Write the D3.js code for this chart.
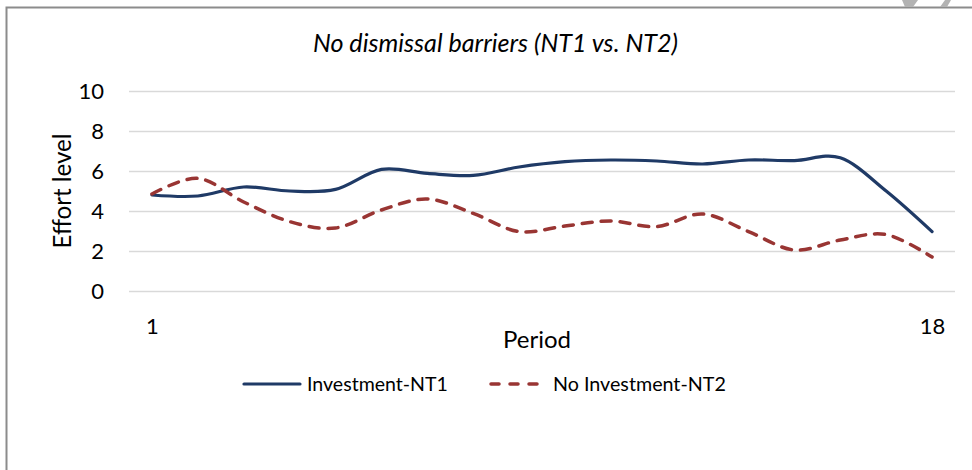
<!DOCTYPE html>
<html>
<head>
<meta charset="utf-8">
<script src="https://cdn.jsdelivr.net/npm/d3@7"></script>
<style>
  html, body { margin: 0; padding: 0; background: #fff; }
  svg { display: block; }
  text { font-family: Lato, "Open Sans", sans-serif; fill: #000; }
</style>
</head>
<body>
<svg id="chart" width="972" height="470"></svg>
<script>
// ---- data ----
const periods = d3.range(1, 19);
const investmentNT1 = [4.8, 4.75, 5.2, 5.0, 5.08, 6.08, 5.88, 5.78, 6.2, 6.47, 6.55, 6.5, 6.35, 6.55, 6.52, 6.66, 5.0, 2.97];
const noInvestmentNT2 = [4.85, 5.63, 4.45, 3.47, 3.15, 4.05, 4.6, 3.88, 2.97, 3.25, 3.5, 3.22, 3.85, 2.97, 2.05, 2.55, 2.82, 1.7];
const yTicks = [0, 2, 4, 6, 8, 10];
const xTickLabels = [1, 18];
const seriesNames = ["Investment-NT1", "No Investment-NT2"];
const titleText = "No dismissal barriers (NT1 vs. NT2)";
const yTitle = "Effort level";
const xTitle = "Period";

// ---- setup ----
const svg = d3.select("#chart");
const plot = { left: 129, right: 955, top: 91, bottom: 291 };

const x = d3.scalePoint().domain(periods).range([plot.left, plot.right]).padding(0.5);
const y = d3.scaleLinear().domain([0, 10]).range([plot.bottom, plot.top]);

// helper: fit text to target width by adjusting font size
function fit(sel, target) {
  const node = sel.node();
  const fs = parseFloat(sel.attr("font-size"));
  const w = node.getComputedTextLength();
  if (w > 0) sel.attr("font-size", (fs * target / w).toFixed(2));
  return sel;
}

// outer frame
svg.append("path")
  .attr("d", "M6.5,470 L6.5,7.5 L972,7.5")
  .attr("fill", "none").attr("stroke", "#8c8c8c").attr("stroke-width", 2);

// decorative grey shapes at top-right
svg.append("path").attr("d", "M902,0 L918,0 L913,7 L905,7 Z").attr("fill", "#b3b3b3");
svg.append("path").attr("d", "M940,7 L945,0 L951,0 L947,7 Z").attr("fill", "#b3b3b3");

// title
const t = svg.append("text")
  .attr("x", 495.5).attr("y", 52)
  .attr("text-anchor", "middle")
  .attr("font-style", "italic")
  .attr("font-size", 20)
  .text(titleText);
fit(t, 365);

// gridlines via axis
const yAxis = d3.axisLeft(y).tickValues(yTicks).tickSize(-(plot.right - plot.left)).tickPadding(25);
const gy = svg.append("g").attr("transform", `translate(${plot.left},0)`).call(yAxis);
gy.select(".domain").remove();
gy.selectAll(".tick line").attr("stroke", "#d9d9d9").attr("stroke-width", 1.5);
gy.selectAll(".tick text")
  .attr("font-family", "Lato, sans-serif")
  .attr("font-size", 22)
  .attr("fill", "#000")
  .attr("dy", "0.36em");

// x labels
const xAxis = d3.axisBottom(x).tickValues(xTickLabels).tickSize(0).tickPadding(0);
const gx = svg.append("g").attr("transform", `translate(0,${plot.bottom})`).call(xAxis);
gx.select(".domain").remove();
gx.selectAll(".tick text")
  .attr("font-family", "Lato, sans-serif")
  .attr("font-size", 22)
  .attr("fill", "#000")
  .attr("y", 35).attr("dy", "0.36em");

// axis titles
const yt = svg.append("text")
  .attr("transform", "translate(62,191) rotate(-90)")
  .attr("text-anchor", "middle")
  .attr("dy", "0.36em")
  .attr("font-size", 20)
  .text(yTitle);
fit(yt, 115);

const xt = svg.append("text")
  .attr("x", 537).attr("y", 339)
  .attr("text-anchor", "middle")
  .attr("dy", "0.36em")
  .attr("font-size", 20)
  .text(xTitle);
fit(xt, 68);

// lines
const line = d3.line()
  .x((d, i) => x(periods[i]))
  .y(d => y(d))
  .curve(d3.curveCatmullRom.alpha(0));

svg.append("path")
  .datum(investmentNT1)
  .attr("d", line)
  .attr("fill", "none")
  .attr("stroke", "#1f3a66")
  .attr("stroke-width", 3.2)
  .attr("stroke-linecap", "round");

svg.append("path")
  .datum(noInvestmentNT2)
  .attr("d", line)
  .attr("fill", "none")
  .attr("stroke", "#993533")
  .attr("stroke-width", 3.5)
  .attr("stroke-dasharray", "10,9")
  .attr("stroke-linecap", "round");

// legend
const legY = 384;
const leg = svg.append("g");
leg.append("line").attr("x1", 244).attr("x2", 300).attr("y1", legY).attr("y2", legY)
  .attr("stroke", "#1f3a66").attr("stroke-width", 3.2).attr("stroke-linecap", "round");
const l1 = leg.append("text").attr("x", 307).attr("y", legY).attr("dy", "0.36em")
  .attr("font-size", 20).text(seriesNames[0]);
fit(l1, 141);
leg.append("line").attr("x1", 491).attr("x2", 545).attr("y1", legY).attr("y2", legY)
  .attr("stroke", "#993533").attr("stroke-width", 3.5)
  .attr("stroke-dasharray", "8,11").attr("stroke-linecap", "round");
const l2 = leg.append("text").attr("x", 553).attr("y", legY).attr("dy", "0.36em")
  .attr("font-size", 20).text(seriesNames[1]);
fit(l2, 173);
</script>
</body>
</html>
